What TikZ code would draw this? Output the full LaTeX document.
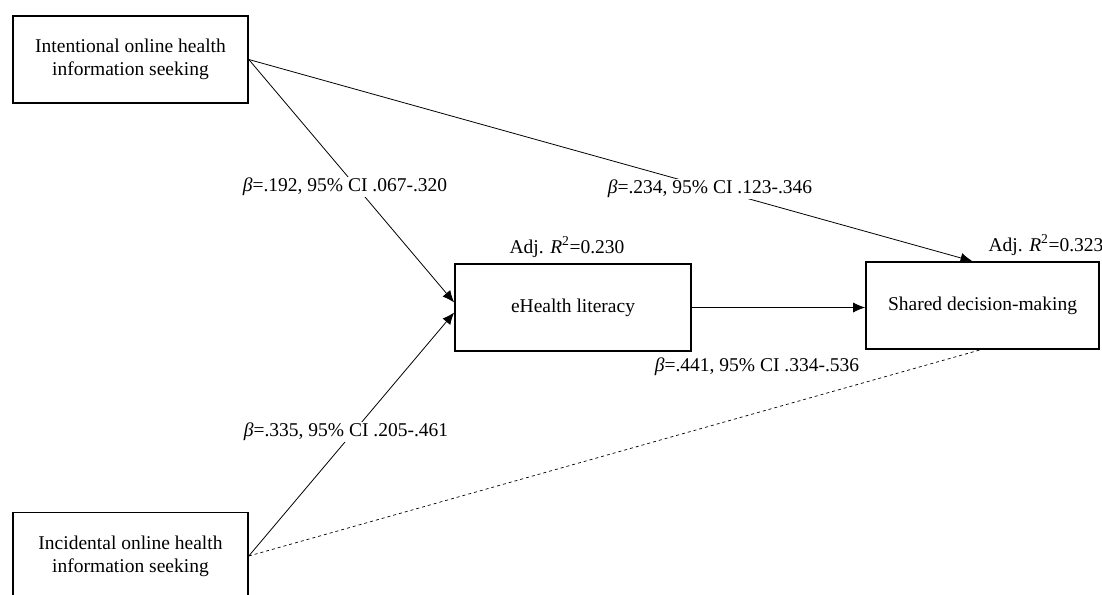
\documentclass[tikz,border=0pt]{standalone}
\usepackage{fontspec}
\setmainfont{Liberation Serif}
\usetikzlibrary{arrows.meta}

\begin{document}
\begin{tikzpicture}[x=1pt,y=-1pt,
		every node/.style={font=\fontsize{19.5}{23}\selectfont},
		varbox/.style={draw,line width=1.6pt,minimum width=235pt,minimum height=87pt,align=center},
		effect/.style={-{Latex[length=12pt,width=10pt]},line width=0.8pt},
		coef/.style={inner sep=1pt,fill=white}]
	\clip (0,0) rectangle (1102,594);
	\node[varbox] (intent) at (130.5,59.5) {Intentional online health\\information seeking};
	\node[varbox] (incid) at (130.5,556) {Incidental online health\\information seeking};
	\node[varbox,minimum width=236pt] (ehl) at (573,307.5) {eHealth literacy};
	\node[varbox,minimum width=233pt] (sdm) at (982.5,305.5) {Shared decision-making};
	% paths
	\draw[effect] (intent.east) -- ([yshift=5pt]ehl.west);
	\draw[effect] (incid.east) -- ([yshift=-5pt]ehl.west);
	\draw[effect] (intent.east) -- ([xshift=-10pt]sdm.north);
	\draw[effect] (ehl.east) -- (sdm.west|-ehl.east);
	\draw[dashed,line width=0.7pt] (incid.east) -- ([xshift=-2pt]sdm.south);
	% coefficients
	\node[coef] (c1) at (345,187) {\textit{β}=.192, 95\% CI .067-.320};
	\node[coef] (c2) at (346,432) {\textit{β}=.335, 95\% CI .205-.461};
	\node[coef] (c3) at (710,189) {\textit{β}=.234, 95\% CI .123-.346};
	\node[coef] (c4) at (757,367) {\textit{β}=.441, 95\% CI .334-.536};
	\node[coef] (r1) at (567,247) {Adj. \textit{R}\textsuperscript{2}=0.230};
	\node[coef] (r2) at (1046,245) {Adj. \textit{R}\textsuperscript{2}=0.323};
\end{tikzpicture}
\end{document}
